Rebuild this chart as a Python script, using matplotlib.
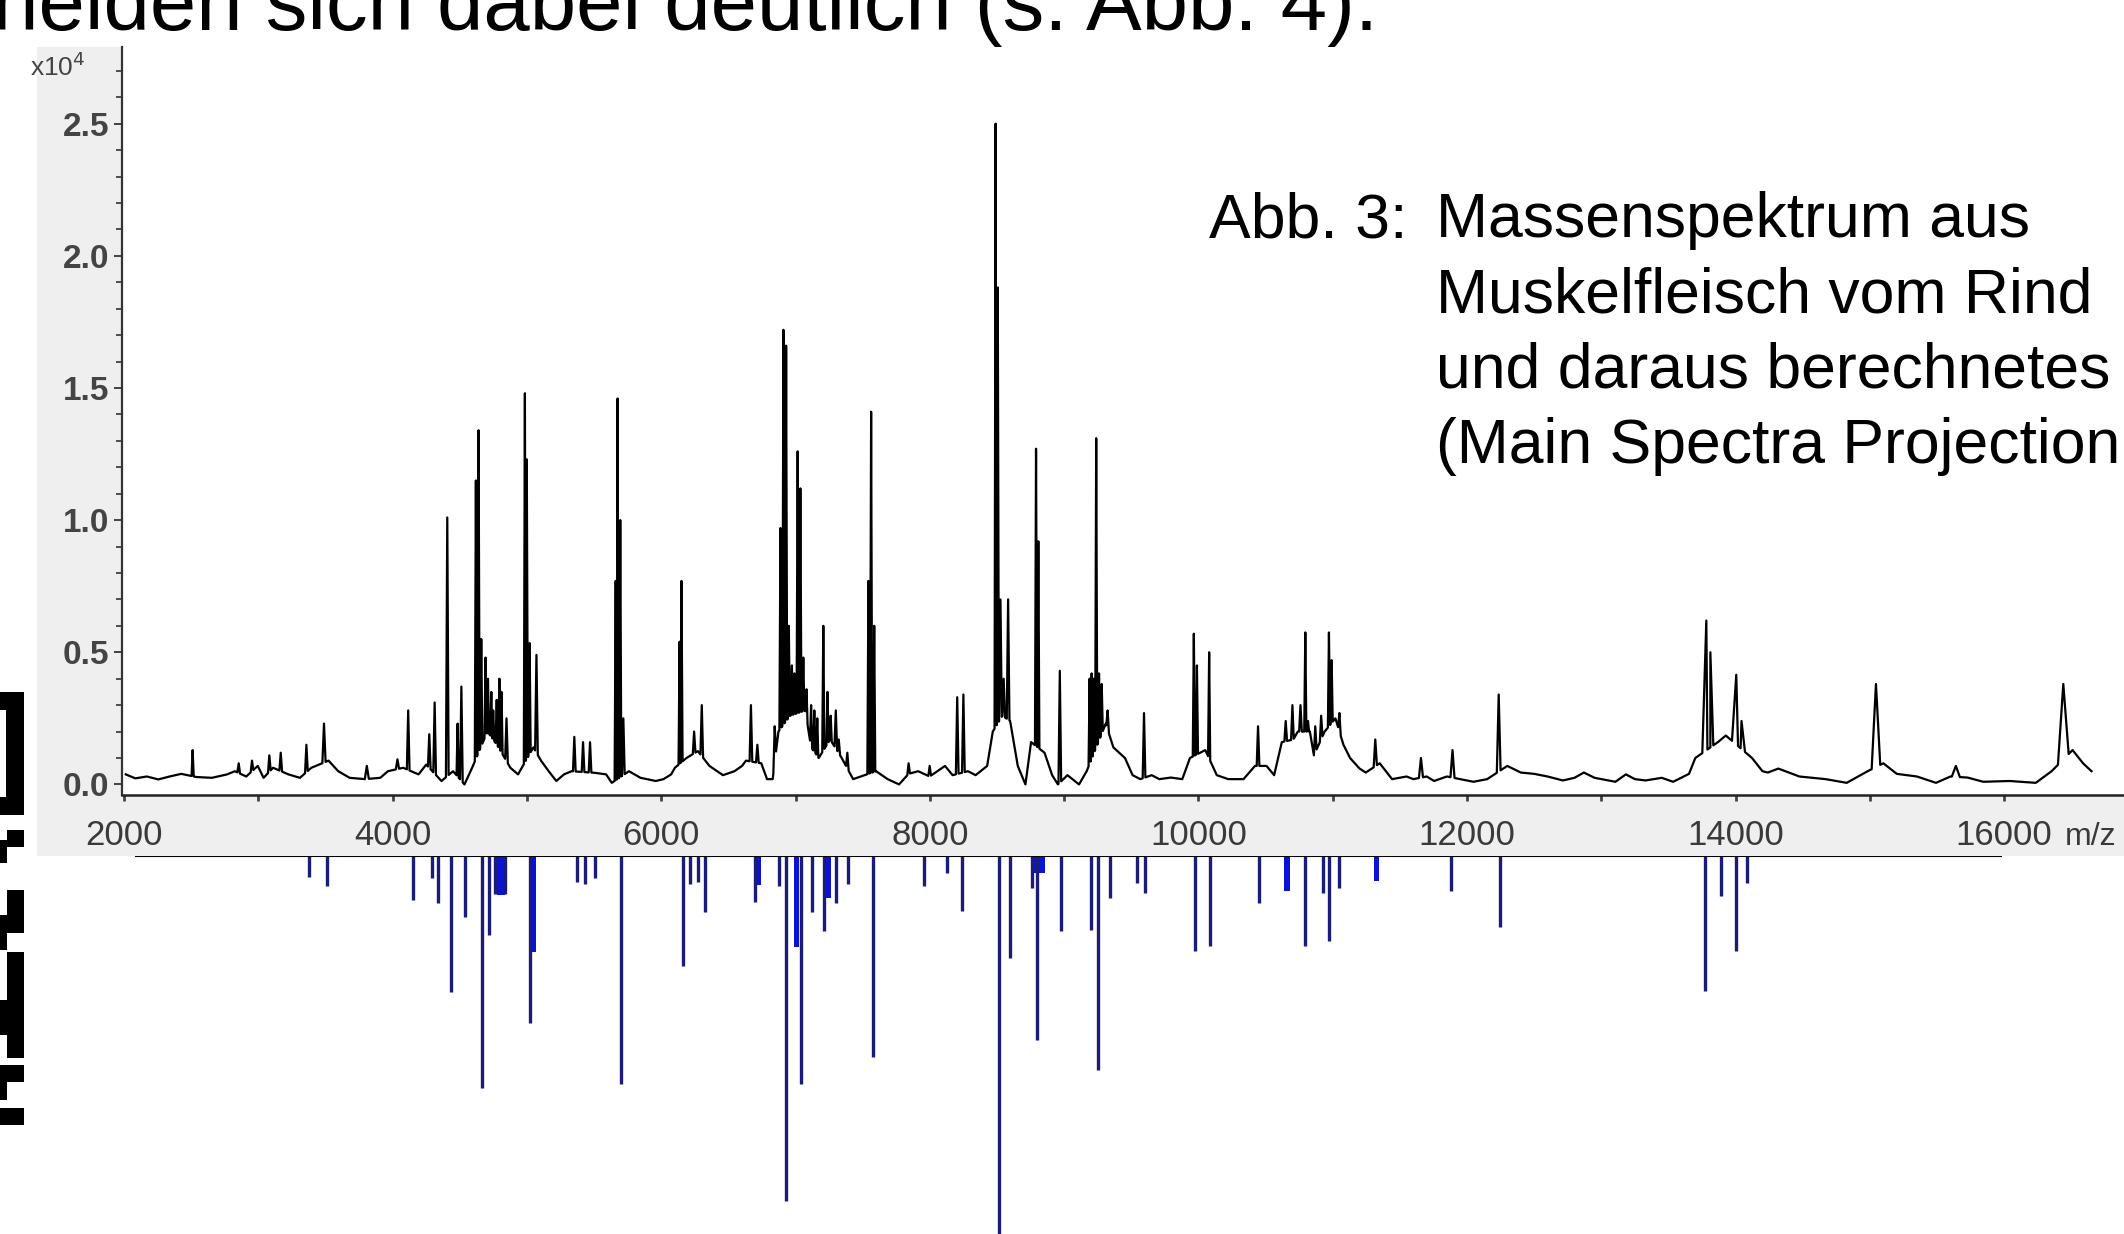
import numpy as np
import matplotlib
matplotlib.use("Agg")
import matplotlib.pyplot as plt
from matplotlib.patches import Rectangle

# ---------------- data ----------------
# baseline of the mass spectrum (m/z, intensity x10^4)
base_mz = [2013, 2084, 2170, 2255, 2340, 2426, 2540, 2654, 2768, 2825, 2910, 2996, 3039, 3110,
           3224, 3310, 3395, 3523, 3595, 3680, 3794, 3908, 3965, 4079, 4193, 4250, 4364, 4450,
           4535, 4592, 4706, 4777, 4877, 4934, 5048, 5105, 5162, 5219, 5276, 5333, 5504, 5590,
           5632, 5760, 5846, 5960, 6017, 6074, 6102, 6188, 6273, 6359, 6460, 6545, 6602, 6631,
           6745, 6788, 6830, 6873, 6959, 7073, 7116, 7173, 7258, 7344, 7429, 7514, 7600, 7686,
           7771, 7842, 7913, 7999, 8113, 8170, 8284, 8341, 8427, 8469, 8541, 8598, 8655, 8712,
           8754, 8854, 8911, 8954, 9025, 9111, 9168, 9310, 9367, 9453, 9510, 9567, 9652, 9709,
           9795, 9880, 9937, 10051, 10137, 10222, 10336, 10421, 10507, 10564, 10621, 10707,
           10740, 10830, 10860, 10940, 11020, 11080, 11129, 11200, 11246, 11350, 11442, 11550,
           11600, 11700, 11755, 11850, 11950, 12048, 12150, 12300, 12400, 12500, 12600, 12714,
           12800, 12870, 12950, 13105, 13183, 13250, 13330, 13450, 13535, 13653, 13700, 13868,
           13927, 14122, 14200, 14240, 14318, 14475, 14670, 14827, 14983, 15100, 15200, 15350,
           15492, 15600, 15727, 15844, 16040, 16235, 16353, 16509, 16587, 16650]
base_int = [0.038, 0.023, 0.03, 0.019, 0.03, 0.04, 0.028, 0.025, 0.038, 0.05, 0.03, 0.07, 0.025, 0.063,
            0.038, 0.025, 0.063, 0.09, 0.05, 0.025, 0.02, 0.025, 0.05, 0.063, 0.038, 0.075, 0.013, 0.05,
            0.0, 0.063, 0.2, 0.15, 0.063, 0.038, 0.14, 0.09, 0.05, 0.013, 0.038, 0.05, 0.044, 0.038,
            0.006, 0.05, 0.025, 0.013, 0.02, 0.038, 0.063, 0.1, 0.126, 0.07, 0.035, 0.05, 0.07, 0.09,
            0.08, 0.02, 0.02, 0.2, 0.26, 0.28, 0.14, 0.1, 0.17, 0.1, 0.02, 0.035, 0.05, 0.02,
            0.0, 0.04, 0.05, 0.03, 0.07, 0.035, 0.05, 0.035, 0.07, 0.2, 0.26, 0.24, 0.07, 0.0,
            0.16, 0.12, 0.035, 0.0, 0.035, 0.0, 0.05, 0.23, 0.14, 0.1, 0.035, 0.02, 0.035, 0.02,
            0.026, 0.02, 0.10, 0.13, 0.035, 0.02, 0.02, 0.07, 0.07, 0.035, 0.16, 0.17,
            0.2, 0.2, 0.11, 0.2, 0.25, 0.15, 0.10, 0.06, 0.045, 0.08, 0.02, 0.03,
            0.02, 0.03, 0.013, 0.03, 0.02, 0.01, 0.02, 0.07, 0.045, 0.04, 0.03, 0.015,
            0.025, 0.045, 0.025, 0.01, 0.038, 0.02, 0.015, 0.025, 0.01, 0.04, 0.10, 0.16,
            0.185, 0.10, 0.05, 0.045, 0.06, 0.03, 0.02, 0.006, 0.05, 0.08, 0.04, 0.03,
            0.006, 0.03, 0.026, 0.01, 0.013, 0.006, 0.05, 0.13, 0.08, 0.05]

# peaks of the spectrum: position, apex intensity (x10^4), half width at the foot
peak_mz = [2511, 2854, 2953, 3082, 3167, 3358, 3489, 3808, 4036, 4116, 4273, 4313, 4407, 4484,
           4512, 4620, 4640, 4660, 4692, 4710, 4735, 4749, 4775, 4795, 4811, 4848, 4985, 4999,
           5020, 5071, 5353, 5418, 5470, 5661, 5675, 5695, 5718, 6137, 6151, 6245, 6302, 6668,
           6716, 6845, 6888, 6910, 6930, 6950, 6973, 6992, 7016, 7036, 7058, 7082, 7116, 7140,
           7162, 7207, 7238, 7262, 7300, 7322, 7386, 7543, 7563, 7586, 7842, 7999, 8204, 8250,
           8490, 8506, 8526, 8550, 8583, 8791, 8808, 8968, 9190, 9205, 9220, 9239, 9260, 9280,
           9324, 9595, 9966, 9989, 10080, 10444, 10650, 10700, 10760, 10796, 10816, 10870, 10914,
           10972, 10992, 11050, 11317, 11657, 11892, 12236, 13782, 13812, 14005, 14044, 15045,
           15640, 16440]
peak_int = [0.13, 0.08, 0.09, 0.11, 0.12, 0.15, 0.23, 0.07, 0.095, 0.28, 0.19, 0.31, 1.01, 0.23,
            0.37, 1.15, 1.34, 0.55, 0.48, 0.40, 0.35, 0.28, 0.32, 0.40, 0.35, 0.25, 1.48, 1.23,
            0.535, 0.49, 0.18, 0.16, 0.16, 0.77, 1.46, 1.00, 0.25, 0.54, 0.77, 0.20, 0.30, 0.30,
            0.15, 0.22, 0.97, 1.72, 1.66, 0.60, 0.45, 0.42, 1.26, 1.12, 0.48, 0.36, 0.30, 0.28,
            0.25, 0.60, 0.35, 0.26, 0.28, 0.17, 0.12, 0.77, 1.41, 0.60, 0.08, 0.07, 0.33, 0.34,
            2.50, 1.88, 0.70, 0.40, 0.70, 1.27, 0.92, 0.43, 0.40, 0.42, 0.40, 1.31, 0.42, 0.38,
            0.28, 0.27, 0.57, 0.45, 0.50, 0.22, 0.24, 0.30, 0.30, 0.575, 0.24, 0.22, 0.26,
            0.575, 0.47, 0.27, 0.17, 0.10, 0.13, 0.34, 0.62, 0.50, 0.415, 0.24, 0.38,
            0.07, 0.38]
peak_hw = [8, 10, 10, 10, 10, 10, 12, 15, 12, 10, 10, 10, 10, 8,
           10, 8, 8, 8, 8, 8, 8, 8, 8, 8, 8, 10, 8, 8,
           8, 10, 10, 10, 10, 8, 8, 8, 10, 8, 8, 10, 10, 10,
           10, 10, 8, 8, 8, 8, 8, 8, 8, 8, 8, 8, 8, 8,
           8, 8, 8, 8, 10, 10, 10, 8, 8, 8, 10, 10, 10, 10,
           8, 8, 10, 10, 10, 8, 8, 10, 8, 8, 8, 8, 8, 8,
           10, 10, 8, 8, 8, 10, 10, 10, 10, 8, 8, 10, 10,
           8, 8, 10, 12, 15, 15, 14, 30, 22, 32, 26, 32,
           30, 40]

# main-spectra projection (blue sticks, relative depth)
bar_mz = [3377, 3508, 4154, 4296, 4336, 4437, 4538, 4669, 4719, 4759, 4840, 5022, 5375, 5436,
          5506, 5698, 6162, 6213, 6273, 6324, 6697, 6879, 6929, 7040, 7121, 7212, 7303, 7394,
          7575, 7959, 8130, 8241, 8513, 8594, 8763, 8796, 8977, 9199, 9250, 9341, 9543, 9603,
          9977, 10088, 10451, 10794, 10925, 10976, 11046, 11883, 12246, 13770, 13891, 14002, 14083]
bar_depth = [0.055, 0.080, 0.117, 0.059, 0.124, 0.360, 0.161, 0.615, 0.208, 0.10, 0.10, 0.443, 0.068, 0.073,
             0.059, 0.602, 0.29, 0.073, 0.068, 0.148, 0.121, 0.080, 0.914, 0.602, 0.148, 0.198, 0.124, 0.073,
             0.533, 0.080, 0.046, 0.145, 1.0, 0.27, 0.084, 0.487, 0.199, 0.195, 0.566, 0.112, 0.071, 0.097,
             0.250, 0.239, 0.124, 0.239, 0.097, 0.226, 0.084, 0.093, 0.188, 0.358, 0.106, 0.251, 0.071]
# clusters of sticks that render as bright-blue blocks
blk_start = [4775, 5030, 6690, 6992, 7214, 8760, 10640, 11305]
blk_end = [4835, 5070, 6740, 7025, 7262, 8860, 10684, 11345]
blk_depth = [0.104, 0.254, 0.077, 0.241, 0.112, 0.044, 0.093, 0.066]

y_ticks = [0.0, 0.5, 1.0, 1.5, 2.0, 2.5]
y_labels = ["0.0", "0.5", "1.0", "1.5", "2.0", "2.5"]
x_ticks = list(range(2000, 17000, 1000))
x_labels = ["2000", "", "4000", "", "6000", "", "8000", "", "10000", "", "12000", "", "14000", "", "16000"]

top_text = "unterscheiden sich dabei deutlich (s. Abb. 4)."
caption_head = "Abb. 3:"
caption_lines = ["Massenspektrum aus", "Muskelfleisch vom Rind", "und daraus berechnetes",
                 "(Main Spectra Projection"]

# ---------------- figure ----------------
W, H = 2124, 1234
fig = plt.figure(figsize=(W / 100, H / 100), dpi=100)
fig.patch.set_facecolor("white")
FONT = ["Liberation Sans", "DejaVu Sans"]
plt.rcParams["font.family"] = FONT


def fx(px):
    return px / W


def fy(py):
    return 1 - py / H


# gray panel of the screenshot (behind the axes)
fig.patches.append(Rectangle((fx(37), fy(856)), 1 - fx(37), fy(47) - fy(856),
                             transform=fig.transFigure, facecolor="#efefef",
                             edgecolor="none", zorder=-10))

# QR-code fragment at left edge
qr = [(0, 24, 692, 710), (6, 24, 710, 797), (0, 24, 797, 815), (7, 24, 830, 847),
      (0, 7, 840, 863), (7, 24, 890, 933), (0, 7, 915, 950), (7, 24, 952, 1058),
      (0, 7, 1000, 1035), (0, 24, 1065, 1082), (0, 7, 1082, 1100), (0, 24, 1108, 1125)]
for x0, x1, y0, y1 in qr:
    fig.patches.append(Rectangle((fx(x0), fy(y1)), fx(x1 - x0), (y1 - y0) / H,
                                 transform=fig.transFigure, facecolor="black",
                                 edgecolor="none", zorder=-5))

# main spectrum axes
ax_l, ax_top, ax_bot = 122, 47, 795
ax = fig.add_axes([fx(ax_l), fy(ax_bot), 1 - fx(ax_l), (ax_bot - ax_top) / H])
ax.set_zorder(2)
ax.set_facecolor("white")
ax.set_xlim(1985, 16892)
ax.set_ylim(-0.04, 2.79)

bm = np.array(base_mz, float)
bi = np.array(base_int, float)
keep = np.ones(len(bm), bool)
for m, w in zip(peak_mz, peak_hw):
    keep &= ~((bm > m - w) & (bm < m + w))
xs = list(bm[keep])
ys = list(bi[keep])
for m, h, w in zip(peak_mz, peak_int, peak_hw):
    xs += [m - w, m, m + w]
    ys += [np.interp(m - w, bm, bi), h, np.interp(m + w, bm, bi)]
order = np.argsort(xs, kind="stable")
ax.plot(np.array(xs)[order], np.array(ys)[order], color="black", lw=1.6, zorder=3)

for s in ["top", "right"]:
    ax.spines[s].set_visible(False)
ax.spines["left"].set_color("#333333")
ax.spines["left"].set_linewidth(1.6)
ax.spines["bottom"].set_color("#222222")
ax.spines["bottom"].set_linewidth(1.8)

ax.set_yticks(y_ticks)
ax.set_yticklabels(y_labels)
ax.set_yticks(np.arange(0, 2.75, 0.1), minor=True)
ax.tick_params(axis="y", which="major", length=6, width=1.3, color="#333333",
               labelsize=24, labelcolor="#444444", pad=3)
ax.tick_params(axis="y", which="minor", length=4, width=1.2, color="#333333")
ax.set_xticks(x_ticks)
ax.set_xticklabels(x_labels)
ax.tick_params(axis="x", which="major", length=4, width=2, color="#444444",
               labelsize=25, labelcolor="#3a3a3a", pad=13)
for lab in ax.get_yticklabels():
    lab.set_fontweight("bold")

ax.annotate("m/z", xy=(16000, 0), xycoords=("data", "axes fraction"),
            xytext=(44, -30), textcoords="offset points", ha="left", va="center",
            fontsize=23, color="#3a3a3a", annotation_clip=False)
fig.text(fx(30), fy(76), "x10$^{4}$", fontsize=19, color="#444444", ha="left", va="baseline",
         zorder=5)

# projection axes (blue sticks)
ax2 = fig.add_axes([fx(ax_l), 0, 1 - fx(ax_l), 378 / H])
ax2.set_zorder(1)
ax2.set_xlim(1985, 16892)
ax2.set_ylim(-1.0, 0.0)
ax2.axis("off")
ax2.vlines(bar_mz, 0, -np.array(bar_depth), color="#1b1b7a", lw=2.4, zorder=3)
ax2.bar([(a + b) / 2 for a, b in zip(blk_start, blk_end)], [-d for d in blk_depth],
        width=[b - a for a, b in zip(blk_start, blk_end)], color="#0a12d6", lw=0, zorder=2)
ax2.hlines(0, 2080, 15985, color="black", lw=1.5, zorder=4)

# texts
fig.text(fx(1378), fy(30), top_text, fontsize=60, ha="right", va="baseline", color="black")
fig.text(fx(1209), fy(237), caption_head, fontsize=45, ha="left", va="baseline", color="black",
         zorder=5)
for i, line in enumerate(caption_lines):
    fig.text(fx(1436), fy(237 + 75.5 * i), line, fontsize=45, ha="left", va="baseline",
             color="black", zorder=5)

fig.savefig("out.png", dpi=100, facecolor="white")
